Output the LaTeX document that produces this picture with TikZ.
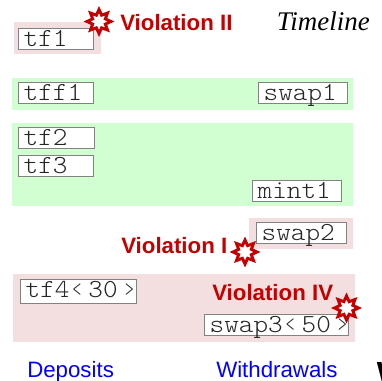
\documentclass[tikz,border=0pt]{standalone}
\usepackage{fontspec}
\setmainfont{Liberation Serif}
\setsansfont{Liberation Sans}
\setmonofont[FakeStretch=1.07]{Latin Modern Mono Light}
\usetikzlibrary{shapes.geometric, positioning}
\definecolor{viocol}{RGB}{196,0,0}
\definecolor{okfill}{RGB}{209,255,209}
\definecolor{badfill}{RGB}{243,223,223}
\definecolor{boxline}{RGB}{130,130,130}
\tikzset{>=stealth,
  txbox/.style={draw=boxline,fill=white,line width=0.6pt,inner xsep=4pt,inner ysep=0pt,anchor=north west,text width=#1,align=left,font=\ttfamily\fontsize{19.5}{19}\selectfont,text=black!85,text height=13.5pt,text depth=2.25pt},
  violabel/.style={text=viocol,font=\sffamily\bfseries\fontsize{16.7}{17}\selectfont,inner sep=0pt,anchor=base west},
  sidelabel/.style={text=blue,font=\sffamily\fontsize{16.7}{17}\selectfont,inner sep=0pt,anchor=base west},
  burst/.style={star,star points=8,star point ratio=1.75,draw=viocol,line width=2.2pt,fill=white,inner sep=0pt,minimum size=18pt}}
\begin{document}
\begin{tikzpicture}[x=0.75pt,y=-0.75pt]
  \useasboundingbox (0,0) rectangle (382,381);
  % zones
  \path[fill=badfill] (14,22) rectangle (101,54);
  \path[fill=okfill] (12,78) rectangle (353,110);
  \path[fill=okfill] (12,123) rectangle (353,206);
  \path[fill=badfill] (249,218) rectangle (353,249);
  \path[fill=badfill] (13,274) rectangle (355,342);
  % boxes
  \node[txbox=48pt] (tfa) at (18,28) {tf1};
  \node[txbox=48pt] (tffa) at (18,82) {tff1};
  \node[txbox=59pt] (swapa) at (258,82) {swap1};
  \node[txbox=49pt] (tfb) at (18,127) {tf2};
  \node[txbox=48pt] (tfc) at (18,155) {tf3};
  \node[txbox=58.5pt] (minta) at (252,180) {mint1};
  \node[txbox=59.5pt,text depth=2.5pt] (swapb) at (256,222) {swap2};
  \node[txbox=79pt,text depth=4.25pt] (tfd) at (20,279) {tf4‹\,30\,›};
  \node[txbox=100pt,text depth=2.5pt] (swapc) at (204,314) {swap3‹\,50\,›};
  % labels
  \node[burst] (burstb) at (99,21.5) {};
  \node[violabel] (viob) at (120,31) {Violation II};
  \node[anchor=base east,inner sep=0pt,font=\itshape\fontsize{20.2}{20}\selectfont] (timeline) at (370,31) {Timeline};
  \node[violabel] (vioa) at (121,253) {Violation I};
  \node[burst] (bursta) at (245,252) {};
  \node[violabel] (viod) at (212,300.5) {Violation IV};
  \node[burst] (burstd) at (346.5,308) {};
  \node[sidelabel] (deposits) at (27,377) {Deposits};
  \node[sidelabel] (withdrawals) at (216,377) {Withdrawals};
  \node[anchor=base west,inner sep=0pt,font=\sffamily\bfseries\fontsize{24}{24}\selectfont] (cutoff) at (376.5,384) {W};
\end{tikzpicture}
\end{document}
